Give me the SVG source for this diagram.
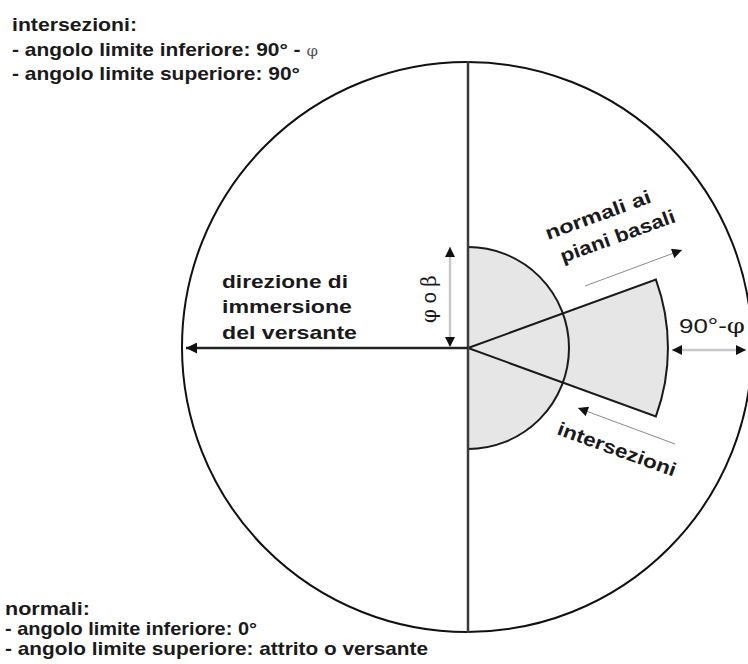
<svg xmlns="http://www.w3.org/2000/svg" width="748" height="664" viewBox="0 0 748 664">
<defs>
<style>
.lbl{font-family:"Liberation Sans",Arial,sans-serif;font-weight:bold;font-size:19px;fill:#1a1a1a}
.reg{font-family:"Liberation Sans",Arial,sans-serif;font-weight:normal;fill:#1a1a1a}
.sym{font-family:"DejaVu Serif","Liberation Serif",serif;font-weight:normal}
.thin{stroke:#8a8a8a;stroke-width:1;fill:none}
.dim{stroke:#c8c8c8;stroke-width:2.5;fill:none}
.fill{fill:#e6e6e6;stroke:none}
.edge{fill:none;stroke:#1a1a1a;stroke-width:2}
</style>
<marker id="ah" viewBox="0 0 10 10" refX="10" refY="5" markerWidth="11" markerHeight="10" markerUnits="userSpaceOnUse" orient="auto-start-reverse">
<path d="M0,0 L10,5 L0,10 Z" fill="#111"/>
</marker>
<marker id="ahBig" viewBox="0 0 10 10" refX="10" refY="5" markerWidth="14" markerHeight="11" markerUnits="userSpaceOnUse" orient="auto">
<path d="M0,0 L10,5 L0,10 Z" fill="#111"/>
</marker>
</defs>
<rect width="748" height="664" fill="#ffffff"/>

<g id="circle">
<circle cx="467" cy="347" r="285" fill="none" stroke="#111" stroke-width="2"/>
</g>
<g id="semicircle">
<path class="fill" d="M468,247 A101,101 0 0 1 468,449 Z"/>
</g>
<g id="wedge">
<path class="fill" d="M468,348 L655.9,279.6 A200,200 0 0 1 655.9,416.4 Z"/>
<path class="edge" d="M468,348 L655.9,279.6 A200,200 0 0 1 655.9,416.4 Z"/>
</g>
<g id="semicircle-outline">
<path class="edge" d="M468,247 A101,101 0 0 1 468,449"/>
</g>

<g id="connectors">
<line x1="468" y1="61" x2="468" y2="633" stroke="#3a3a3a" stroke-width="2.5"/>
<line x1="468" y1="348" x2="186" y2="348" stroke="#222" stroke-width="2.5" marker-end="url(#ahBig)"/>
<line class="dim" x1="450" y1="247" x2="450" y2="347" marker-start="url(#ah)" marker-end="url(#ah)"/>
<line class="dim" x1="672" y1="350" x2="746" y2="350" marker-start="url(#ah)" marker-end="url(#ah)"/>
<line class="thin" x1="585" y1="286" x2="682" y2="250" marker-end="url(#ah)"/>
<line class="thin" x1="675" y1="444" x2="578" y2="408" marker-end="url(#ah)"/>
</g>

<g id="text-intersezioni-legend">
<text class="lbl" x="12" y="31" textLength="125" lengthAdjust="spacingAndGlyphs">intersezioni:</text>
<text class="lbl" x="12" y="56" textLength="306" lengthAdjust="spacingAndGlyphs">- angolo limite inferiore: 90° - <tspan class="sym" font-size="15" fill="#555">φ</tspan></text>
<text class="lbl" x="12" y="80" textLength="288" lengthAdjust="spacingAndGlyphs">- angolo limite superiore: 90°</text>
</g>

<g id="text-normali-legend">
<text class="lbl" x="5" y="615" textLength="85" lengthAdjust="spacingAndGlyphs">normali:</text>
<text class="lbl" x="5" y="635" textLength="252" lengthAdjust="spacingAndGlyphs">- angolo limite inferiore: 0°</text>
<text class="lbl" x="5" y="655" textLength="423" lengthAdjust="spacingAndGlyphs">- angolo limite superiore: attrito o versante</text>
</g>

<g id="label-direzione">
<text class="lbl" x="222" y="288" textLength="126" lengthAdjust="spacingAndGlyphs">direzione di</text>
<text class="lbl" x="222" y="313" textLength="130" lengthAdjust="spacingAndGlyphs">immersione</text>
<text class="lbl" x="222" y="339" textLength="135" lengthAdjust="spacingAndGlyphs">del versante</text>
</g>

<g id="label-normali">
<text class="lbl" transform="translate(548,240) rotate(-20)" textLength="111" lengthAdjust="spacingAndGlyphs">normali ai</text>
<text class="lbl" transform="translate(563,263) rotate(-20)" textLength="121" lengthAdjust="spacingAndGlyphs">piani basali</text>
</g>

<g id="label-intersezioni">
<text class="lbl" transform="translate(556,434) rotate(20)" textLength="125" lengthAdjust="spacingAndGlyphs">intersezioni</text>
</g>

<g id="label-phi-beta">
<text class="reg" font-size="20" transform="translate(436,299) rotate(-90)" text-anchor="middle"><tspan class="sym">φ</tspan> o <tspan class="sym">β</tspan></text>
</g>

<g id="label-90phi">
<text class="reg" font-size="20" x="679" y="333" textLength="66" lengthAdjust="spacingAndGlyphs">90°-<tspan class="sym">φ</tspan></text>
</g>
</svg>
